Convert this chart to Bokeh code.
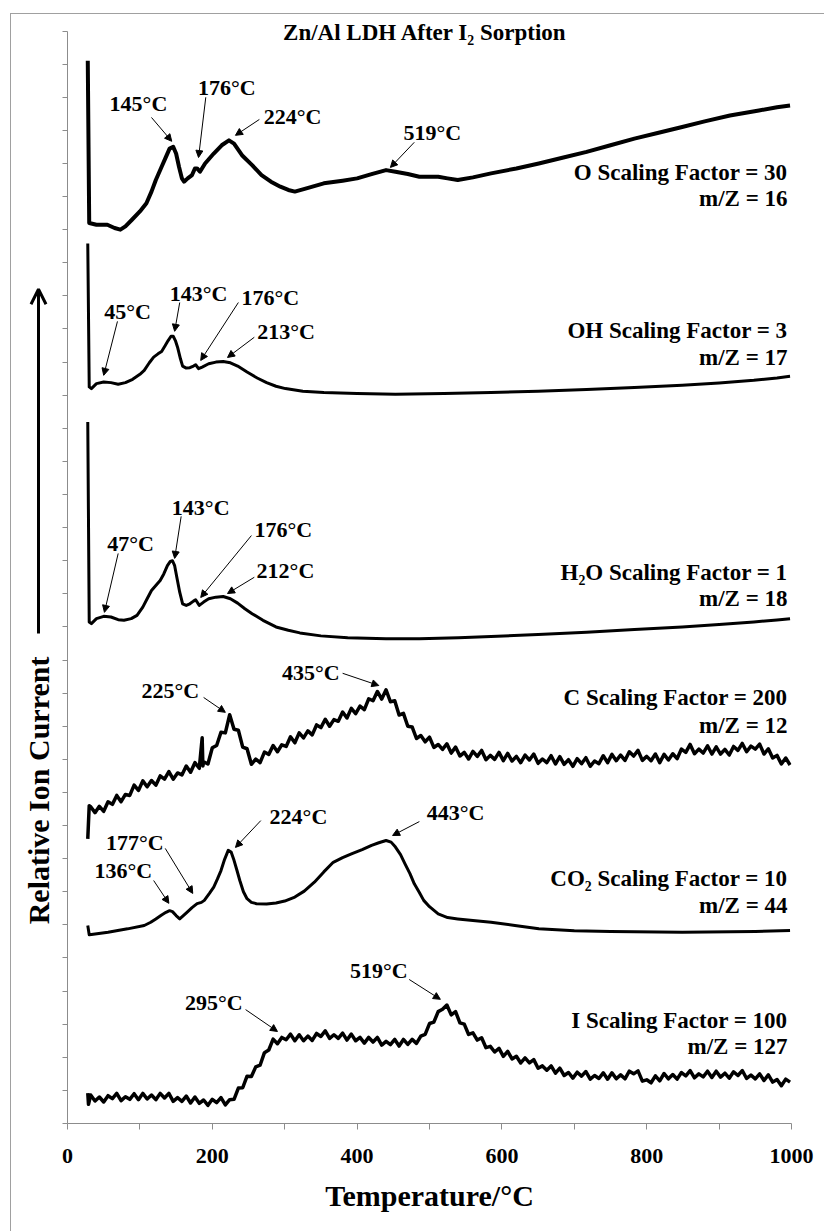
import math
from bokeh.plotting import figure
from bokeh.layouts import row
from bokeh.models import Range1d, FixedTicker, Arrow, NormalHead, OpenHead, ColumnDataSource
from bokeh.core.properties import value
from bokeh.embed import file_html
from bokeh.resources import INLINE

FONT = "Liberation Serif"

# ---------------- data (temperature in degC, relative ion current incl. offsets) -------------
o_temp = [28, 30, 40, 55, 65, 73, 80, 89, 100, 109, 116, 122, 130, 136, 141, 146, 150, 154, 158, 161,
          166, 172, 176, 179, 183, 190, 202, 213, 223, 230, 241, 255, 268, 281, 294, 305, 314, 330,
          354, 380, 400, 420, 440, 453, 470, 486, 512, 525, 539, 560, 585, 620, 651, 685, 717, 750,
          783, 815, 849, 880, 915, 955, 980, 998]
o_val = [32.1, 27.2, 27.15, 27.15, 27.05, 27.0, 27.1, 27.3, 27.55, 27.8, 28.15, 28.5, 28.9, 29.2, 29.45,
         29.5, 29.3, 28.9, 28.55, 28.45, 28.55, 28.65, 28.85, 28.85, 28.75, 29.0, 29.3, 29.55, 29.7,
         29.6, 29.25, 28.95, 28.65, 28.45, 28.3, 28.2, 28.15, 28.25, 28.4, 28.48, 28.55, 28.68, 28.8,
         28.75, 28.68, 28.6, 28.6, 28.55, 28.5, 28.58, 28.7, 28.85, 29.0, 29.18, 29.35, 29.55, 29.75,
         29.92, 30.1, 30.27, 30.45, 30.6, 30.7, 30.75]

oh_temp = [28, 30, 33, 40, 50, 60, 70, 80, 90, 100, 106, 113, 119, 125, 130, 135, 139, 143, 146, 149,
           152, 156, 159, 164, 169, 174, 177, 181, 186, 195, 205, 215, 225, 235, 248, 262, 275, 288,
           301, 325, 354, 400, 453, 520, 585, 650, 717, 783, 849, 900, 948, 980, 998]
oh_val = [26.58, 22.25, 22.2, 22.35, 22.4, 22.38, 22.33, 22.38, 22.48, 22.63, 22.75, 22.98, 23.15, 23.25,
          23.32, 23.5, 23.65, 23.78, 23.78, 23.65, 23.45, 23.1, 22.88, 22.82, 22.83, 22.88, 22.92, 22.8,
          22.85, 22.95, 23.0, 23.02, 22.98, 22.88, 22.7, 22.52, 22.38, 22.27, 22.2, 22.12, 22.08, 22.05,
          22.03, 22.05, 22.08, 22.12, 22.17, 22.23, 22.3, 22.37, 22.45, 22.52, 22.57]

h2o_temp = [28, 30, 33, 40, 50, 60, 70, 78, 88, 96, 104, 110, 116, 122, 128, 133, 138, 142, 145, 148,
            151, 155, 159, 164, 169, 174, 177, 182, 188, 195, 205, 215, 225, 235, 245, 255, 270, 288,
            305, 321, 350, 387, 440, 486, 540, 585, 650, 717, 783, 849, 900, 948, 980, 998]
h2o_val = [21.19, 15.15, 15.1, 15.25, 15.32, 15.3, 15.22, 15.2, 15.25, 15.35, 15.6, 15.85, 16.1, 16.25,
           16.4, 16.6, 16.85, 16.98, 17.0, 16.85, 16.5, 16.05, 15.7, 15.65, 15.7, 15.78, 15.82, 15.65,
           15.75, 15.85, 15.9, 15.92, 15.85, 15.72, 15.55, 15.4, 15.2, 15.0, 14.9, 14.82, 14.73, 14.67,
           14.64, 14.64, 14.67, 14.71, 14.77, 14.84, 14.92, 15.0, 15.07, 15.15, 15.21, 15.25]

# C (m/Z = 12): sampled every 6 degC, with the thin spike near 186 degC
c_temp = [28, 30] + list(range(32, 183, 6)) + [186, 187] + list(range(188, 999, 6))
c_val = [8.6, 9.6,
         9.57, 9.39, 9.58, 9.43, 9.72, 9.64, 9.91, 9.72, 9.94, 9.91,
         10.22, 10.06, 10.35, 10.17, 10.36, 10.22, 10.5, 10.4, 10.63, 10.4,
         10.59, 10.53, 10.8, 10.61, 10.9, 10.73,
         11.65, 10.8,
         10.93, 10.86, 11.35, 11.42, 11.82, 11.8, 12.35, 11.91, 11.88, 11.37,
         11.32, 10.85, 11.01, 10.9, 11.22, 11.15, 11.42, 11.23, 11.44, 11.39,
         11.68, 11.5, 11.8, 11.65, 11.86, 11.74, 12.04, 11.96, 12.21, 12.0,
         12.2, 12.15, 12.43, 12.25, 12.54, 12.38, 12.61, 12.5, 12.83, 12.77,
         13.05, 12.82, 13.1, 12.74, 12.77, 12.34, 12.39, 12.0, 11.98, 11.63,
         11.72, 11.53, 11.67, 11.36, 11.45, 11.3, 11.47, 11.19, 11.37, 11.1,
         11.21, 11.01, 11.24, 11.09, 11.27, 10.99, 11.12, 11.0, 11.21, 10.96,
         11.18, 10.95, 11.09, 10.9, 11.13, 10.98, 11.16, 10.88, 11.01, 10.9,
         11.11, 10.86, 11.08, 10.85, 10.99, 10.79, 11.02, 10.87, 11.05, 10.79,
         10.95, 10.87, 11.11, 10.9, 11.15, 10.96, 11.13, 10.97, 11.23, 11.1,
         11.27, 10.97, 11.09, 10.96, 11.16, 10.9, 11.15, 10.98, 11.17, 11.02,
         11.31, 11.21, 11.45, 11.17, 11.31, 11.19, 11.41, 11.16, 11.38, 11.16,
         11.3, 11.13, 11.39, 11.27, 11.48, 11.23, 11.4, 11.31, 11.46, 11.16,
         11.32, 11.04, 11.12, 10.86, 11.04, 10.83]

co2_temp = [28, 30, 33, 56, 83, 106, 115, 122, 130, 136, 141, 145, 150, 155, 160, 165, 172, 179, 185,
            189, 196, 202, 207, 212, 217, 222, 226, 230, 234, 238, 243, 248, 254, 261, 275, 288, 300, 314,
            327, 341, 354, 367, 380, 393, 407, 420, 430, 440, 447, 453, 460, 466, 473, 479, 486, 492, 500,
            512, 525, 539, 560, 585, 618, 651, 700, 750, 849, 950, 998]
co2_val = [5.98, 5.7, 5.71, 5.78, 5.88, 5.98, 6.08, 6.18, 6.3, 6.38, 6.43, 6.4, 6.28, 6.18, 6.28, 6.38,
           6.52, 6.64, 6.68, 6.74, 6.95, 7.14, 7.38, 7.64, 7.98, 8.25, 8.2, 7.95, 7.65, 7.34, 7.0, 6.79,
           6.68, 6.64, 6.63, 6.66, 6.72, 6.84, 7.02, 7.29, 7.6, 7.89, 8.03, 8.15, 8.27, 8.4, 8.48, 8.55,
           8.5, 8.35, 8.12, 7.85, 7.55, 7.24, 6.98, 6.74, 6.55, 6.33, 6.22, 6.18, 6.13, 6.08, 5.98, 5.88,
           5.82, 5.8, 5.78, 5.8, 5.83]

# I (m/Z = 127): sampled every 6 degC
i_temp = [28, 29] + list(range(32, 999, 6))
i_val = [0.92, 0.58,
         0.86, 0.68, 0.8, 0.65, 0.84, 0.75, 0.91, 0.69, 0.81, 0.73,
         0.9, 0.72, 0.91, 0.74, 0.86, 0.72, 0.91, 0.77, 0.91, 0.67,
         0.78, 0.67, 0.83, 0.62, 0.8, 0.61, 0.71, 0.55, 0.73, 0.63,
         0.78, 0.56, 0.72, 0.73, 1.07, 1.08, 1.43, 1.42, 1.71, 1.76,
         2.14, 2.22, 2.55, 2.41, 2.6, 2.53, 2.7, 2.5, 2.68, 2.5,
         2.64, 2.51, 2.72, 2.63, 2.8, 2.57, 2.68, 2.57, 2.73, 2.52,
         2.7, 2.5, 2.6, 2.43, 2.6, 2.46, 2.6, 2.37, 2.48, 2.38,
         2.54, 2.34, 2.54, 2.39, 2.54, 2.42, 2.64, 2.69, 3.02, 3.06,
         3.38, 3.45, 3.58, 3.28, 3.38, 3.04, 3.0, 2.69, 2.74, 2.52,
         2.59, 2.29, 2.33, 2.16, 2.27, 2.03, 2.18, 1.95, 2.03, 1.83,
         1.98, 1.83, 1.93, 1.67, 1.74, 1.61, 1.74, 1.52, 1.67, 1.45,
         1.54, 1.37, 1.55, 1.43, 1.57, 1.34, 1.45, 1.36, 1.53, 1.34,
         1.53, 1.35, 1.47, 1.35, 1.58, 1.5, 1.59, 1.28, 1.32, 1.23,
         1.44, 1.29, 1.51, 1.35, 1.48, 1.34, 1.54, 1.44, 1.6, 1.38,
         1.5, 1.41, 1.58, 1.39, 1.58, 1.4, 1.52, 1.37, 1.56, 1.45,
         1.6, 1.36, 1.46, 1.35, 1.5, 1.3, 1.47, 1.25, 1.33, 1.14,
         1.34, 1.25]

x_ticks = [0, 100, 200, 300, 400, 500, 600, 700, 800, 900, 1000]
x_tick_labels = ["0", "", "200", "", "400", "", "600", "", "800", "", "1000"]
y_ticks = list(range(0, 34))

# peak labels: text, text anchor (T, value), arrow tail, arrow head
peak_text = ["145°C", "176°C", "224°C", "519°C",
             "45°C", "143°C", "176°C", "213°C",
             "47°C", "143°C", "176°C", "212°C",
             "225°C", "435°C",
             "177°C", "136°C", "224°C", "443°C",
             "295°C", "519°C"]
peak_tx = [98, 220, 311, 504, 83, 181, 280, 302, 87, 184, 298, 301, 142, 336, 93, 77, 319, 536, 202, 430]
peak_ty = [30.82, 31.3, 30.42, 29.94, 24.53, 25.08, 24.95, 23.93, 17.52, 18.61, 17.95, 16.71,
           13.08, 13.63, 8.49, 7.64, 9.27, 9.4, 3.66, 4.62]
arr_x0 = [116, 191, 265, 479, 69, 155, 236, 258, 70, 157, 254, 258, 188, 380, 135, 119, 267, 486, 246, 472]
arr_y0 = [30.39, 31.0, 30.33, 29.64, 24.23, 24.8, 24.8, 23.75, 17.22, 18.34, 17.76, 16.5,
          12.87, 13.6, 8.31, 7.34, 9.15, 9.12, 3.44, 4.35]
arr_x1 = [144, 181, 232, 446, 50, 148, 184, 221, 51, 148, 184, 221, 218, 430, 173, 140, 232, 449, 290, 515]
arr_y1 = [29.67, 29.18, 29.85, 28.88, 22.6, 23.93, 23.05, 23.14, 15.44, 17.07, 15.89, 16.01,
          12.42, 13.23, 6.95, 6.65, 8.34, 8.7, 2.78, 3.75]

series_text = ["O Scaling Factor = 30", "m/Z = 16",
               "OH Scaling Factor = 3", "m/Z = 17",
               "H\u2082O Scaling Factor = 1", "m/Z = 18",
               "C Scaling Factor = 200", "m/Z = 12",
               "CO\u2082 Scaling Factor = 10", "m/Z = 44",
               "I Scaling Factor = 100", "m/Z = 127"]
series_ty = [28.73, 27.95, 23.96, 23.14, 16.65, 15.86, 12.87, 12.02, 7.4, 6.59, 3.11, 2.33]

y_range = Range1d(0, 33.47)

# ---------------- main figure -------------
p = figure(width=768, height=1217, x_range=Range1d(0, 1000), y_range=y_range,
           output_backend="svg", toolbar_location=None,
           min_border_left=11, min_border_right=33, min_border_top=1, min_border_bottom=108)
p.grid.visible = False
p.outline_line_color = None
p.background_fill_color = "white"
p.border_fill_color = "white"

ax = p.xaxis[0]
ax.ticker = FixedTicker(ticks=x_ticks)
ax.major_label_overrides = {t: s for t, s in zip(x_ticks, x_tick_labels)}
ax.major_label_text_font = FONT
ax.major_label_text_font_style = "bold"
ax.major_label_text_font_size = "22px"
ax.major_label_text_color = "black"
ax.major_label_standoff = 19
ax.major_tick_in = 0
ax.major_tick_out = 6
ax.minor_tick_out = 0
ax.minor_tick_in = 0
ax.axis_line_color = "#8c8c8c"
ax.major_tick_line_color = "#8c8c8c"
ax.axis_label = "Temperature/°C"
ax.axis_label_text_font = FONT
ax.axis_label_text_font_style = "bold"
ax.axis_label_text_font_size = "30px"
ax.axis_label_text_color = "black"
ax.axis_label_standoff = 13

ay = p.yaxis[0]
ay.ticker = FixedTicker(ticks=y_ticks)
ay.bounds = (0, 33)
ay.major_label_overrides = {t: "" for t in y_ticks}
ay.major_label_standoff = 0
ay.major_tick_in = 0
ay.major_tick_out = 5
ay.minor_tick_out = 0
ay.minor_tick_in = 0
ay.axis_line_color = "#8c8c8c"
ay.major_tick_line_color = "#8c8c8c"

# curves
p.line(o_temp, o_val, line_color="black", line_width=4, line_join="round")
p.line(oh_temp, oh_val, line_color="black", line_width=3, line_join="round")
p.line(h2o_temp, h2o_val, line_color="black", line_width=3, line_join="round")
p.line(c_temp, c_val, line_color="black", line_width=3.5, line_join="round")
p.line(co2_temp, co2_val, line_color="black", line_width=3, line_join="round")
p.line(i_temp, i_val, line_color="black", line_width=3.5, line_join="round")

# title inside plot area
p.text(x=[494], y=[32.96], text=["Zn/Al LDH After I\u2082 Sorption"], text_font=value(FONT),
       text_font_style="bold", text_font_size="23px", text_align="center", text_baseline="middle",
       text_color="black")

# peak labels and arrows
p.text(x=peak_tx, y=peak_ty, text=peak_text, text_font=value(FONT), text_font_style="bold",
       text_font_size="22px", text_align="center", text_baseline="middle", text_color="black")
arr_src = ColumnDataSource(dict(x0=arr_x0, y0=arr_y0, x1=arr_x1, y1=arr_y1))
p.add_layout(Arrow(end=NormalHead(size=7, fill_color="black", line_color="black", line_width=1),
                   x_start="x0", y_start="y0", x_end="x1", y_end="y1", source=arr_src,
                   line_color="black", line_width=1))

# series labels
p.text(x=[994.5] * len(series_text), y=series_ty, text=series_text, text_font=value(FONT),
       text_font_style="bold", text_font_size="23px", text_align="right", text_baseline="middle",
       text_color="black")

# ---------------- left strip: y-axis title with its arrow (shares the y scale) -------------
pl = figure(width=45, height=1217, x_range=Range1d(0, 45), y_range=y_range,
            output_backend="svg", toolbar_location=None,
            min_border_left=0, min_border_right=0, min_border_top=1, min_border_bottom=108)
pl.axis.visible = False
pl.grid.visible = False
pl.outline_line_color = None
pl.background_fill_color = "white"
pl.border_fill_color = "white"
pl.text(x=[27], y=[10.06], text=["Relative Ion Current"], angle=math.pi / 2, text_font=value(FONT),
        text_font_style="bold", text_font_size="30px", text_align="center", text_baseline="middle",
        text_color="black")
pl.add_layout(Arrow(end=OpenHead(size=15, line_color="black", line_width=3),
                    x_start=27, y_start=14.8, x_end=27, y_end=25.2,
                    line_color="black", line_width=3))

layout = row(pl, p, spacing=0)
layout.margin = (13, 0, 0, 10)
layout.styles = {"border-left": "1px solid #a0a0a0", "border-top": "1px solid #a0a0a0"}

open("out.html", "w").write(file_html(layout, INLINE))
